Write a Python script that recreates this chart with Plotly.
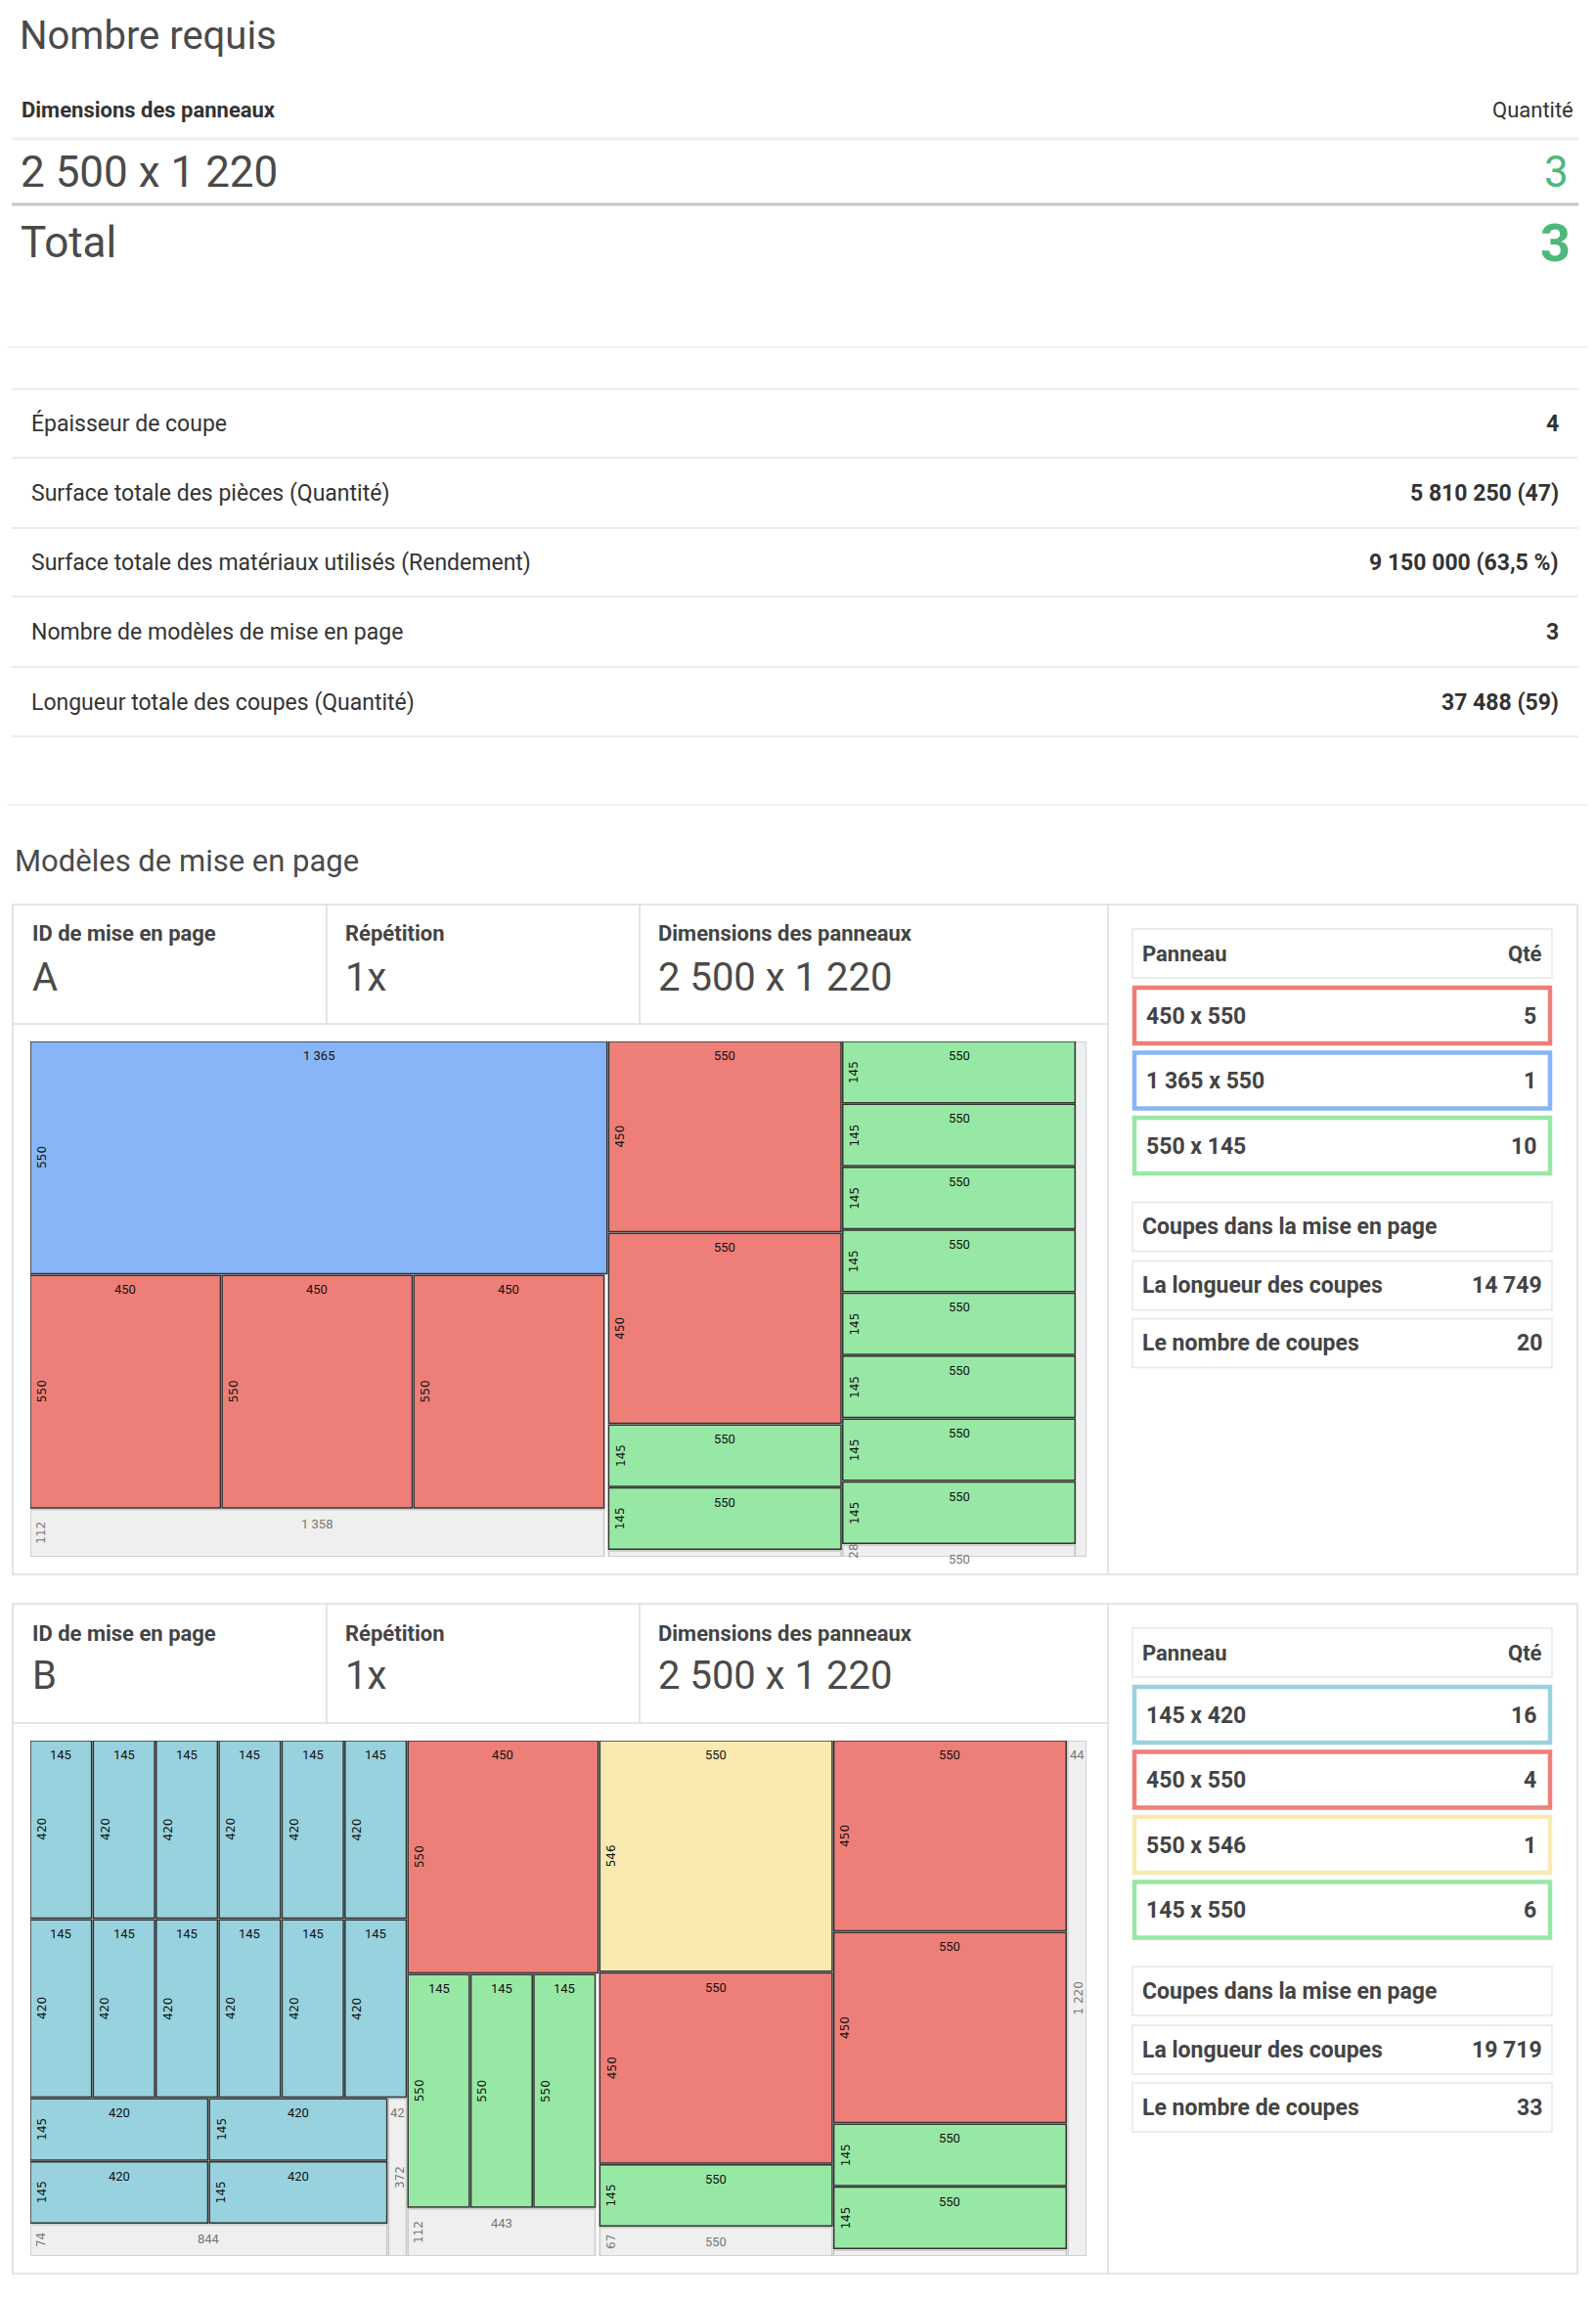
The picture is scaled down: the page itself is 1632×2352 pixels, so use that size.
import plotly.graph_objects as go

W, H = 1632, 2352
OFF = 8  # browser body margin compensation
RED, BLUE, GREEN, YELLOW, TEAL = "#ee7f78", "#87b5f7", "#98e8a5", "#f8eab0", "#98d2de"

# ---------- data ----------
panel_dims = "2 500 x 1 220"
panel_w, panel_h = 2500, 1220
required_qty = 3
stats_labels = ["Épaisseur de coupe", "Surface totale des pièces (Quantité)",
                "Surface totale des matériaux utilisés (Rendement)",
                "Nombre de modèles de mise en page", "Longueur totale des coupes (Quantité)"]
stats_values = ["4", "5 810 250 (47)", "9 150 000 (63,5 %)", "3", "37 488 (59)"]

# layout A pieces: x, y, w, h (mm), colour
A_x = [0, 0, 454, 908, 1369, 1369, 1369, 1369] + [1923]*8
A_y = [0, 554, 554, 554, 0, 454, 908, 1057] + [0, 149, 298, 447, 596, 745, 894, 1043]
A_w = [1365, 450, 450, 450, 550, 550, 550, 550] + [550]*8
A_h = [550, 550, 550, 550, 450, 450, 145, 145] + [145]*8
A_c = [BLUE, RED, RED, RED, RED, RED, GREEN, GREEN] + [GREEN]*8
# waste A
A_wx = [0, 1369, 1923, 2473]
A_wy = [1108, 1206, 1192, 0]
A_ww = [1358, 550, 550, 27]
A_wh = [112, 14, 28, 1220]
A_wlab = [True, False, True, False]

# layout B pieces
B_x = [0, 149, 298, 447, 596, 745]*2 + [0, 424, 0, 424] + [894, 894, 1043, 1192] + [1348, 1348, 1348] + [1902, 1902, 1902, 1902]
B_y = [0]*6 + [424]*6 + [848, 848, 997, 997] + [0, 554, 554, 554] + [0, 550, 1004] + [0, 454, 908, 1057]
B_w = [145]*12 + [420]*4 + [450, 145, 145, 145] + [550, 550, 550] + [550]*4
B_h = [420]*12 + [145]*4 + [550, 550, 550, 550] + [546, 450, 145] + [450, 450, 145, 145]
B_c = [TEAL]*16 + [RED, GREEN, GREEN, GREEN] + [YELLOW, RED, GREEN] + [RED, RED, GREEN, GREEN]
B_wx = [0, 848, 894, 1348, 1902, 2456]
B_wy = [1146, 848, 1108, 1153, 1206, 0]
B_ww = [844, 42, 443, 550, 550, 44]
B_wh = [74, 372, 112, 67, 14, 1220]
B_wlab = [True, True, True, True, False, True]

A_leg_names = ["450 x 550", "1 365 x 550", "550 x 145"]
A_leg_qty = [5, 1, 10]
A_leg_col = [RED, BLUE, GREEN]
A_cut_len, A_cut_n = "14 749", "20"
B_leg_names = ["145 x 420", "450 x 550", "550 x 546", "145 x 550"]
B_leg_qty = [16, 4, 1, 6]
B_leg_col = [TEAL, RED, YELLOW, GREEN]
B_cut_len, B_cut_n = "19 719", "33"

# ---------- helpers ----------
fig = go.Figure()
shapes, ann = [], []
FONT = "Roboto"

def X(p): return (p - OFF) / W
def Y(p): return 1 - (p - OFF) / H

def text(x, y, s, size, color="#4a4a4a", anchor="left", bold=False, family=FONT):
    ann.append(dict(x=X(x), y=Y(y), xref="paper", yref="paper", text=f"<b>{s}</b>" if bold else s,
                    showarrow=False, xanchor=anchor, yanchor="middle",
                    font=dict(size=size, color=color, family=family)))

def hline(y, x0, x1, color="#eeeeee", w=2):
    shapes.append(dict(type="line", xref="paper", yref="paper", x0=X(x0), x1=X(x1), y0=Y(y), y1=Y(y),
                       line=dict(color=color, width=w)))

def rect(x0, y0, x1, y1, line="#e6e6e6", w=1.5, fill="rgba(0,0,0,0)"):
    shapes.append(dict(type="rect", xref="paper", yref="paper", x0=X(x0), x1=X(x1), y0=Y(y1), y1=Y(y0),
                       line=dict(color=line, width=w), fillcolor=fill))

# ---------- top ----------
text(18, 37, "Nombre requis", 40)
text(20, 112, "Dimensions des panneaux", 22, color="#333", bold=True)
text(1611, 112, "Quantité", 22, color="#333", anchor="right")
hline(142, 12, 1614, "#eeeeee", 3)
text(19, 176, panel_dims, 44)
text(1606, 176, str(required_qty), 44, color="#4cb87a", anchor="right")
hline(209, 12, 1614, "#c6c6c6", 3)
text(19, 248, "Total", 44)
text(1608, 248, str(required_qty), 54, color="#4cb87a", anchor="right", bold=True)
hline(355, 0, 1632, "#f0f0f0", 2)
for yy in [398, 468, 540, 610, 682, 753]:
    hline(yy, 12, 1614, "#ececec", 2)
for i, (lab, val) in enumerate(zip(stats_labels, stats_values)):
    yc = 433 + i * 71.3
    text(30, yc, lab, 23, color="#333")
    text(1596, yc, val, 23, color="#333", anchor="right", bold=True)
hline(823, 0, 1632, "#f0f0f0", 2)
text(13, 880, "Modèles de mise en page", 31)

# ---------- layout blocks ----------
def block(idx, top, label, xs, ys, ws, hs, cs, wxs, wys, wws, whs, wlab,
          leg_names, leg_qty, leg_col, cut_len, cut_n):
    bot = top + 685
    rect(13, top, 1613, bot, "#dddddd", 1.5)
    hline(top + 122, 13, 1133, "#dddddd", 1.5)
    for xx in [334, 654]:
        shapes.append(dict(type="line", xref="paper", yref="paper", x0=X(xx), x1=X(xx), y0=Y(top), y1=Y(top + 122),
                           line=dict(color="#dddddd", width=1.5)))
    shapes.append(dict(type="line", xref="paper", yref="paper", x0=X(1133), x1=X(1133), y0=Y(top), y1=Y(bot),
                       line=dict(color="#dddddd", width=1.5)))
    text(31, top + 30, "ID de mise en page", 22, color="#444", bold=True)
    text(31, top + 74, label, 40)
    text(351, top + 30, "Répétition", 22, color="#444", bold=True)
    text(351, top + 74, "1x", 40)
    text(671, top + 30, "Dimensions des panneaux", 22, color="#444", bold=True)
    text(671, top + 74, panel_dims, 40)

    # right panel
    px0, px1 = 1158, 1587
    rect(px0, top + 25, px1, top + 75)
    text(px0 + 8, top + 50, "Panneau", 22, color="#444", bold=True)
    text(px1 - 8, top + 50, "Qté", 22, color="#444", anchor="right", bold=True)
    y = top + 85
    for n, q, c in zip(leg_names, leg_qty, leg_col):
        rect(px0 + 2, y, px1 - 2, y + 57, c, 4.5)
        text(px0 + 12, y + 29, n, 23, color="#444", bold=True)
        text(px1 - 14, y + 29, str(q), 23, color="#444", anchor="right", bold=True)
        y += 66.5
    y += 20
    rect(px0, y, px1, y + 50)
    text(px0 + 8, y + 25, "Coupes dans la mise en page", 23, color="#444", bold=True)
    y += 60
    rect(px0, y, px1, y + 50)
    text(px0 + 8, y + 25, "La longueur des coupes", 23, color="#444", bold=True)
    text(px1 - 8, y + 25, cut_len, 23, color="#444", anchor="right", bold=True)
    y += 59
    rect(px0, y, px1, y + 50)
    text(px0 + 8, y + 25, "Le nombre de coupes", 23, color="#444", bold=True)
    text(px1 - 8, y + 25, cut_n, 23, color="#444", anchor="right", bold=True)

    # drawing axes
    dtop = top + 140
    sfx = "" if idx == 1 else str(idx)
    xa, ya = "x" + sfx, "y" + sfx
    fig.update_layout(**{
        "xaxis" + sfx: dict(domain=[X(31), X(31 + panel_w * 0.432)], range=[0, panel_w], visible=False,
                            anchor=ya),
        "yaxis" + sfx: dict(domain=[Y(dtop + panel_h * 0.432), Y(dtop)], range=[panel_h, 0], visible=False,
                            anchor=xa),
    })
    for x, y0, w, h, l in zip(wxs, wys, wws, whs, wlab):
        shapes.append(dict(type="rect", xref=xa, yref=ya, x0=x, x1=x + w, y0=y0, y1=y0 + h,
                           fillcolor="#efefef", line=dict(color="#c8c8c8", width=1.5), layer="below"))
        if l:
            ann.append(dict(x=x + w / 2, y=y0, xref=xa, yref=ya, text=f"{w:,}".replace(",", " "),
                            showarrow=False, yanchor="top", yshift=-5,
                            font=dict(size=13, color="#777", family="Liberation Sans Narrow, Roboto")))
            ann.append(dict(x=x, y=y0 + h / 2, xref=xa, yref=ya, text=f"{h:,}".replace(",", " "),
                            showarrow=False, xanchor="left", xshift=2, textangle=-90,
                            font=dict(size=12, color="#777", family="DejaVu Sans")))
    for x, y0, w, h, c in zip(xs, ys, ws, hs, cs):
        shapes.append(dict(type="rect", xref=xa, yref=ya, x0=x, x1=x + w, y0=y0, y1=y0 + h,
                           fillcolor=c, line=dict(color="#333333", width=1.5)))
        ann.append(dict(x=x + w / 2, y=y0, xref=xa, yref=ya, text=f"{w:,}".replace(",", " "),
                        showarrow=False, yanchor="top", yshift=-5,
                        font=dict(size=13, color="#111", family="Liberation Sans Narrow, Roboto")))
        ann.append(dict(x=x, y=y0 + h / 2, xref=xa, yref=ya, text=f"{h:,}".replace(",", " "),
                        showarrow=False, xanchor="left", xshift=3, textangle=-90,
                        font=dict(size=12, color="#111", family="DejaVu Sans")))

block(1, 925, "A", A_x, A_y, A_w, A_h, A_c, A_wx, A_wy, A_ww, A_wh, A_wlab,
      A_leg_names, A_leg_qty, A_leg_col, A_cut_len, A_cut_n)
block(2, 1640, "B", B_x, B_y, B_w, B_h, B_c, B_wx, B_wy, B_ww, B_wh, B_wlab,
      B_leg_names, B_leg_qty, B_leg_col, B_cut_len, B_cut_n)

fig.update_layout(width=W, height=H, margin=dict(l=0, r=0, t=0, b=0), paper_bgcolor="white",
                  plot_bgcolor="rgba(0,0,0,0)", showlegend=False, shapes=shapes, annotations=ann)
fig.write_html("out.html")
